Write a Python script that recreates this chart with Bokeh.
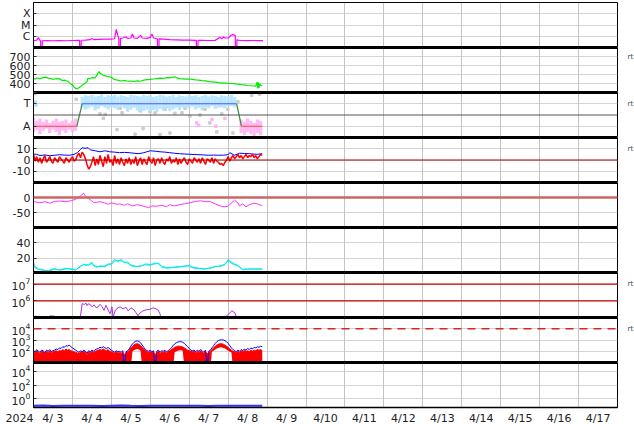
import numpy as np
import pandas as pd
from bokeh.plotting import figure
from bokeh.layouts import column
from bokeh.models import Range1d, FixedTicker, LinearAxis, Span, Grid
from bokeh.embed import file_html
from bokeh.resources import INLINE

# ---------------- data (hours after 2024-04-03 00:00 UTC) ----------------
day_labels = ["4/ 3", "4/ 4", "4/ 5", "4/ 6", "4/ 7", "4/ 8", "4/ 9", "4/10",
              "4/11", "4/12", "4/13", "4/14", "4/15", "4/16", "4/17"]
year_label = "2024"

# panel 1: X-ray flux (W/m2)
xr_h = [0, 2, 3, 4, 4.4, 4.5, 5.3, 5.4, 8, 12, 16, 20, 24, 28, 28.4, 28.5, 29.3, 29.4, 32, 35,
        36, 37, 40, 44, 48, 50, 51, 52, 52.6, 52.7, 53.5, 53.6, 55, 57, 58, 60, 61, 62, 64, 66,
        67, 70, 72, 73, 74, 76.4, 76.5, 77.3, 77.4, 80, 84, 88, 92, 96, 100, 100.4, 100.5, 101.3, 101.4, 104,
        108, 112, 115, 116, 117, 118, 120, 122, 123, 124, 124.4, 124.5, 125.3, 125.4, 126, 128, 132, 136, 140, 141.5]
xr_f = [4.0e-7, 4.5e-7, 7.5e-7, 4.2e-7, 4.0e-7, 1e-8, 1e-8, 4.0e-7, 4.2e-7, 4.0e-7,
        4.1e-7, 4.0e-7, 4.2e-7, 4.3e-7, 4.3e-7, 1e-8, 1e-8, 4.4e-7, 4.5e-7, 5.0e-7,
        6.5e-7, 5.0e-7, 5.2e-7, 5.5e-7, 5.5e-7, 6.0e-7, 4.0e-6, 1.2e-6, 6.0e-7, 1e-8,
        1e-8, 6.5e-7, 7.0e-7, 9.0e-7, 6.5e-7, 7.0e-7, 1.6e-6, 7.0e-7, 6.5e-7, 1.2e-6,
        7.0e-7, 6.5e-7, 8.0e-7, 1.6e-6, 7.0e-7, 6.0e-7, 1e-8, 1e-8, 5.8e-7, 5.5e-7,
        5.0e-7, 4.8e-7, 4.5e-7, 4.5e-7, 4.3e-7, 4.3e-7, 1e-8, 1e-8, 4.3e-7, 4.3e-7,
        4.2e-7, 4.3e-7, 8.0e-7, 6.0e-7, 9.0e-7, 7.0e-7, 7.0e-7, 1.3e-6, 1.4e-6, 1.2e-6,
        1.1e-6, 1e-8, 1e-8, 5.0e-7, 4.5e-7, 4.2e-7, 4.1e-7, 4.2e-7, 4.1e-7, 4.1e-7]

# panel 2: solar wind speed (km/s)
sw_h = [0, 1, 2, 3, 4, 5, 6, 7, 8, 9, 10, 11, 12, 13, 14, 15, 16, 17, 18, 19, 20, 21, 22, 23, 24,
        25, 26, 27, 28, 29, 30, 31, 32, 33, 33.5, 35, 36, 38, 39, 40, 40.5, 41, 42, 43, 44, 45, 46,
        47, 48, 49, 50, 51, 52, 53, 54, 56, 58, 60, 62, 64, 66, 68, 70, 72, 74, 76, 78, 80, 82, 84,
        86, 87, 88, 90, 92, 94, 96, 98, 100, 102, 104, 106, 108, 110, 112, 114, 116, 118, 120, 122,
        124, 126, 128, 130, 132, 134, 136, 137, 138, 138.3, 138.6, 139, 139.3, 140, 141]
sw_v = [455, 450, 462, 458, 452, 460, 465, 470, 468, 460, 458, 455, 445, 450, 455, 452, 455, 440,
        432, 438, 430, 428, 410, 395, 385, 360, 345, 342, 352, 365, 380, 392, 405, 420,
        458, 455, 465, 462, 490, 525, 532, 512, 505, 490, 488, 480, 478, 472, 470, 455, 445, 440,
        438, 432, 428, 435, 425, 428, 422, 430, 425, 438, 442, 445, 450, 455, 460, 456, 465, 462,
        470, 475, 465, 455, 452, 448, 450, 445, 440, 438, 432, 430, 420, 418, 415, 410, 408, 405,
        402, 400, 398, 392, 388, 385, 378, 375, 372, 370, 420, 345, 410, 350, 400, 380, 375]

# panel 3: IMF sector (T = +1, A = -1)
sec_h = [0, 26.7, 30, 125.2, 128.2, 141.2]
sec_v = [-1, -1, 1, 1, -1, -1]
tow_h = [30, 32, 34, 36, 38, 40, 42, 44, 46, 48, 50, 52, 54, 56, 58, 60, 62, 64, 66, 68, 70, 72, 74, 76,
         78, 80, 82, 84, 86, 88, 90, 92, 94, 96, 98, 100, 102, 104, 106, 108, 110, 112, 114, 116, 118,
         120, 122, 124]
tow_hi = [1.6, 1.75, 1.7, 1.8, 1.65, 1.7, 1.85, 1.6, 1.75, 1.7, 1.8, 1.65, 1.75, 1.7, 1.6, 1.8,
          1.75, 1.7, 1.65, 1.8, 1.7, 1.75, 1.6, 1.7, 1.8, 1.75, 1.65, 1.7, 1.8, 1.6, 1.75, 1.7,
          1.65, 1.8, 1.7, 1.75, 1.6, 1.7, 1.8, 1.65, 1.75, 1.7, 1.6, 1.75, 1.7, 1.65, 1.8, 1.6]
tow_lo = [0.7, 0.5, 0.6, 0.75, 0.4, 0.55, 0.8, 0.65, 0.5, 0.7, 0.6, 0.45, 0.75, 0.6, 0.3, 0.5,
          0.65, 0.4, 0.2, 0.35, 0.5, 0.3, 0.45, 0.25, 0.55, 0.4, 0.6, 0.35, 0.5, 0.65, 0.45, 0.7,
          0.55, 0.6, 0.75, 0.5, 0.65, 0.4, 0.7, 0.6, 0.8, 0.55, 0.65, 0.7, 0.6, 0.75, 0.8, 0.7]
away_h = [0, 2, 4, 6, 8, 10, 12, 14, 16, 18, 20, 22, 24, 26, 128, 130, 132, 134, 136, 138, 140]
away_hi = [-0.2, -0.5, -0.3, -0.6, -0.4, -0.7, -0.5, -0.3, -0.6, -0.5, -0.4, -0.7, -0.5, -0.3,
           -0.4, -0.6, -0.3, -0.5, -0.7, -0.4, -0.5]
away_lo = [-1.5, -1.3, -1.7, -1.4, -1.2, -1.6, -1.3, -1.5, -1.8, -1.4, -1.6, -1.3, -1.5, -1.4,
           -1.6, -1.8, -1.5, -1.7, -1.9, -1.6, -1.8]
gray_h = [1, 26.3, 41, 43, 44.2, 51.5, 53.4, 54.6, 62.6, 65.7, 67.5, 71.8, 74.9, 78, 81, 84.1,
          87.2, 91.5, 93.4, 96.4, 102.6, 105.7, 108.7, 113, 116.1, 119.8, 122.9, 126, 134.5, 139.4]
gray_v = [1.9, 1.4, 0.1, -0.3, 0.05, -1.3, 0.6, 0.2, -1.7, 0.4, -1.2, 0.3, 0.2, -1.75, 0.5, -1.6,
          0.15, 0.2, 0.6, -0.1, 0.0, 0.5, -0.7, -1.5, 0.1, 0.5, -1.6, 1.2, 1.75, 1.85]
pinkx_h = [100.6, 101.8, 110, 112.4, 118]
pinkx_v = [-0.7, -0.9, -0.4, -1.0, -0.3]
bluex_h = [1, 1.5]
bluex_v = [1.15, 0.9]

# panel 4: IMF Bt and Bz (nT), hourly Bz
bt_h = [0, 2, 4, 7, 10, 13, 16, 19, 22, 25, 27, 28.7, 30, 31.8, 33.7, 35, 38, 41, 44, 47,
        50, 53, 56, 59, 62, 65, 68, 72, 75, 78, 81, 84, 87, 90, 93, 96, 99, 102, 105, 108,
        111, 114, 117, 120, 121, 124, 127, 130, 133, 136, 138, 141]
bt_v = [5.3, 5, 4, 4.5, 3.8, 4.2, 4.7, 4.4, 4.2, 5, 6.5, 9, 10.9, 10.4, 10.9, 9, 8.2, 7.3, 8.2, 7.3,
        7, 6.5, 6.8, 6.5, 6, 5.6, 6.5, 8.2, 7.8, 7.3, 7, 6.5, 6, 5.6, 5.3, 5.1, 4.9, 4.7, 4.5, 4.2,
        4.4, 4.2, 4.3, 4.7, 6.5, 4.2, 6, 5.8, 5.6, 5.2, 5.1, 5.6]
bz_v = [5, -1, 3, -2, 2, -3, 1, 4, -2, 0,
        3, -1, -3, 2, 0, -2, 3, 1, -1, -3,
        2, 0, -2, 1, 3, -1, 0, 4, 6, 2,
        7, 5, 1, -4, -8, -6, -2, 3, -5, 1,
        -4, 4, -1, -6, 3, -3, 5, -2, 0, -5,
        4, -3, 1, -4, 2, -2, -5, 1, -3, 2,
        -4, 0, -3, 3, -5, -1, 2, -4, 1, -2,
        -4, 3, -1, -3, 2, -5, 0, 1, -3, 2,
        -2, -4, 1, -1, 3, -3, 0, -2, 2, -4,
        1, -3, 0, 2, -2, -4, 1, -1, -3, 2,
        0, -2, 1, -3, 2, -1, -4, 1, 0, -2,
        2, -3, 1, -1, -2, -4, -3, -5, -2, 0,
        3, -1, 2, 4, 1, 3, 5, 2, 4, 1,
        3, 5, 2, 4, 3, 5, 2, 4, 1, 3,
        5, 4]

# panel 5: Dst (nT)
dst_h = [0, 4, 7, 10, 13, 16, 20, 23, 26, 29, 31, 32, 35, 37, 39, 41, 44, 46, 48, 52,
         53, 56, 58, 61, 64, 67, 71, 73, 76, 79, 82, 84, 87, 90, 93, 96, 100, 103, 106, 109,
         112, 115, 118, 120, 122, 124, 126, 127, 129, 131, 133, 136, 138, 141]
dst_v = [-13, -18, -14, -19, -13, -12, -14, -11, -6, 6, 14, 4, -8, -16, -16, -14, -18, -23, -18, -23,
         -21, -26, -21, -28, -24, -28, -34, -28, -29, -26, -31, -24, -28, -24, -21, -18, -13, -11, -14, -14,
         -21, -28, -31, -29, -18, -9, -18, -28, -21, -31, -24, -19, -21, -28]

# panel 6: (cyan, two traces)
cy_h = [0, 1, 3, 7, 10, 13, 16, 20, 23, 26, 29, 31, 32, 34, 36, 37, 39, 41, 44, 46, 48, 50, 52, 54,
        56, 58, 60, 63, 66, 69, 72, 75, 77, 79, 82, 85, 88, 92, 95, 96, 99, 103, 105, 109, 112,
        115, 118, 120, 122, 124, 126, 127, 129, 132, 136, 141]
cy_a = [14, 9, 6.3, 4.4, 3.7, 5.7, 5, 7, 5.7, 5, 8.9, 12.8, 10.2, 12.1, 14.7, 10.2, 8.2, 10.2, 8.9,
        11.5, 13.4, 18.6, 15.4, 18.6, 14.1, 15.4, 10.2, 8.9, 10.2, 11.5, 10.9, 14.1, 12.8, 8.9, 7,
        7.6, 8.9, 8.9, 10.9, 9.6, 7, 6.3, 5.7, 7.6, 8.9, 10.2, 11.5, 18.6, 13.4, 11.5, 10.9, 8.2,
        5, 5.7, 6.3, 5.7]
cy_b = [12, 7.5, 5.5, 4.0, 4.5, 6.8, 4.4, 6.2, 6.6, 4.6, 10.0, 11.5, 12.0, 10.8, 13.2, 11.4, 9.0,
        9.2, 10.0, 12.6, 12.0, 16.4, 17.2, 16.6, 15.2, 13.6, 11.2, 9.6, 9.4, 12.6, 12.0, 12.6, 13.8,
        9.8, 7.8, 8.4, 8.0, 9.8, 9.8, 10.6, 8.0, 6.8, 6.4, 6.8, 9.6, 9.2, 12.6, 16.2, 15.0, 12.6,
        10.0, 9.0, 5.6, 6.2, 5.8, 6.4]

# panel 7: >2 MeV electron flux (log10)
e7_h = [1, 2, 2.5, 10, 13, 13.5, 28.7, 30, 31.2, 32.4, 33, 33.7, 34.9, 36.1, 37.4, 38.6, 39.8, 41,
        42.3, 43.5, 44.7, 46, 47.2, 48.4, 49, 50.3, 51.5, 53.4, 55.2, 57, 58.3, 60.1, 62, 63.2, 64.4,
        65.7, 67.5, 69.4, 71.8, 73.7, 75.5, 76.7, 78, 78.6, 79, 84.1, 85.3, 85.5, 98.3, 99.5, 99.7,
        107.5, 111.2, 111.5, 118.6, 119.8, 122.3, 124.1, 125.3, 125.5, 133.3, 134.5]
e7_log = [5.08, 5.08, np.nan, 5.1, 5.08, np.nan, 4.9, 5.84, 5.78, 5.86, 5.72, 5.82, 5.79, 5.64, 5.76,
          5.58, 5.64, 5.79, 5.64, 5.43, 5.73, 5.46, 5.22, 5.64, 5.0, 5.4, 5.55, 5.64, 5.52, 5.61,
          5.4, 5.58, 5.46, 5.28, 5.1, 5.28, 5.4, 5.46, 5.49, 5.58, 5.52, 5.46, 5.22, 4.9, np.nan,
          5.06, 5.06, np.nan, 5.06, 5.06, np.nan, 5.06, 5.06, np.nan, 5.05, 5.16, 5.4, 5.28, 4.95,
          np.nan, 5.06, 5.06]

# panel 8: electron flux, hourly (log10)
e8_blue = [2.1, 1.95, 2.15, 2.0, 1.9, 2.1, 2.05, 1.85, 2.1, 2.0, 2.15, 1.95, 2.05,
           2.1, 2.2, 2.15, 2.3, 2.25, 2.4, 2.35, 2.5, 2.45, 2.55, 2.4, 2.3, 2.2, 2.1, 2.0,
           1.9, 2.05, 1.95, 2.1, 2.0, 1.8, 2.05, 1.95, 2.1, 2.0, 2.15, 2.2, 2.25,
           2.35, 2.3, 2.4, 2.3, 2.25, 2.35, 2.2, 2.1, 2.0, 1.9, 2.05, 1.95,
           2.0, 1.9, 2.05, 0.5, 1.95, 2.05,
           2.2, 2.45, 2.65, 2.8, 2.9, 2.92, 2.88, 2.75, 2.55, 2.35, 2.15, 2.05,
           2.0, 2.1, 1.95, 2.05, 0.5, 2.0, 2.1, 1.9, 2.05, 2.0, 2.1, 1.95, 2.05, 2.15,
           2.3, 2.5, 2.65, 2.75, 2.82, 2.85, 2.85, 2.8, 2.7, 2.55, 2.4, 2.25, 2.1,
           2.05, 2.1, 1.95, 2.1, 2.0, 2.15, 2.05, 1.9, 2.1, 0.5, 2.0,
           2.1, 2.3, 2.5, 2.7, 2.85, 2.95, 3.0, 3.02, 3.0, 2.95, 2.85, 2.7, 2.5, 2.3, 2.15, 2.05, 1.95,
           2.1, 2.0, 2.15, 2.05, 2.2, 2.1, 2.25, 2.15, 2.3, 2.2, 2.35, 2.3, 2.4, 2.35, 2.45, 2.4]
e8_red_hi = [2.0, 1.85, 2.05, 1.9, 1.8, 2.0, 1.95, 1.75, 2.0, 1.9, 2.05, 1.85, 1.95,
             2.0, 2.05, 1.95, 2.1, 2.0, 2.15, 2.05, 2.2, 2.1, 2.15, 2.05, 2.0, 1.95, 1.9, 1.85,
             1.8, 1.95, 1.85, 2.0, 1.9, 1.7, 1.95, 1.85, 2.0, 1.9, 2.0, 2.05, 2.1,
             2.15, 2.1, 2.2, 2.1, 2.05, 2.15, 2.0, 1.95, 1.9, 1.8, 1.95, 1.85,
             1.9, 1.8, 1.95, 1.7, 1.85, 1.95,
             2.1, 2.3, 2.45, 2.58, 2.65, 2.67, 2.62, 2.5, 2.35, 2.2, 2.05, 1.95,
             1.9, 2.0, 1.85, 1.95, 1.7, 1.9, 2.0, 1.8, 1.95, 1.9, 2.0, 1.85, 1.95, 2.05,
             2.15, 2.25, 2.35, 2.4, 2.45, 2.45, 2.42, 2.38, 2.3, 2.2, 2.1, 2.05, 2.0,
             1.95, 2.0, 1.85, 2.0, 1.9, 2.05, 1.95, 1.8, 2.0, 1.75, 1.9,
             2.0, 2.15, 2.3, 2.45, 2.55, 2.62, 2.67, 2.67, 2.63, 2.55, 2.45, 2.35, 2.2, 2.1, 2.0, 1.95, 1.85,
             2.0, 1.9, 2.05, 1.95, 2.1, 2.0, 2.05, 1.95, 2.1, 2.0, 2.1, 2.05, 2.15, 2.1, 2.15, 2.05]
e8_red_lo = ([0.5] * 61 + [2.0, 2.1, 2.15, 2.2, 2.15, 2.05] + [0.5] * 20
             + [1.9, 2.0, 2.05, 2.1, 2.1, 2.05] + [0.5] * 17
             + [1.95, 2.05, 2.15, 2.25, 2.3, 2.35, 2.35, 2.3, 2.25, 2.15, 2.05, 1.95, 1.9]
             + [0.5] * 19)

# panel 9: proton flux (log10)
p9_h = [0, 6, 12, 18, 24, 30, 36, 42, 48, 54, 60, 66, 72, 78, 84, 90, 96, 102, 108, 114, 120, 126,
        132, 138, 141]
p9_log = [-1.0, -0.97, -1.02, -0.99, -1.01, -0.98, -1.0, -1.03, -0.99, -0.97, -1.0, -1.02, -0.98,
          -1.0, -1.01, -0.99, -0.98, -1.0, -1.02, -0.99, -1.0, -0.98, -1.01, -1.0, -0.99]

# ---------------- helpers ----------------
T0 = pd.Timestamp("2024-04-03")
T1 = pd.Timestamp("2024-04-18")


def ms(ts):
    return ts.value / 1e6


def T(h):
    return (T0 + pd.to_timedelta(np.asarray(h, dtype=float), unit="h")).to_numpy()


def L(a, b):
    n = min(len(a), len(b))
    return list(a)[:n], list(b)[:n]


FONT = "DejaVu Sans"
NBSP = "\u00a0"
xr = Range1d(ms(T0), ms(T1))
day_ticks = [ms(T0 + pd.Timedelta(days=i)) for i in range(16)]
noon_ticks = [ms(T0 + pd.Timedelta(days=i, hours=12)) for i in range(15)]
year_tick = ms(T0 + pd.Timedelta(minutes=1))
HOUR_MS = 3600 * 1000.0


def panel(y0, y1, log, ticks, labels=None, first=False, last=False, rt=None):
    p = figure(frame_width=584, frame_height=45, x_range=xr, y_range=Range1d(y0, y1),
               y_axis_type="log" if log else "linear", x_axis_type=None,
               toolbar_location=None, output_backend="svg",
               min_border=0, min_border_left=33, min_border_right=17,
               min_border_top=2 if first else 0, min_border_bottom=17 if last else 0,
               outline_line_color="black", outline_line_width=1,
               background_fill_color="white", border_fill_color="white")
    tk = FixedTicker(ticks=list(ticks))
    ax = p.yaxis[0]
    ax.ticker = tk
    if labels:
        ax.major_label_overrides = dict(zip(ticks, labels))
    ax.major_label_text_font = FONT
    ax.major_label_text_font_size = "11px"
    ax.major_label_text_color = "#222222"
    ax.major_label_standoff = 3
    ax.major_tick_in = 3
    ax.major_tick_out = 0
    ax.minor_tick_line_color = None
    ax.axis_line_color = "black"
    ax.major_tick_line_color = "#333333"
    p.ygrid[0].ticker = tk
    p.ygrid[0].grid_line_color = "#d4d4d4"
    p.add_layout(Grid(dimension=0, ticker=FixedTicker(ticks=day_ticks), grid_line_color="#c4c4c4"))
    if last:
        xt = [year_tick] + noon_ticks
        xl = [year_label + NBSP * 8] + day_labels
        xa = LinearAxis(ticker=FixedTicker(ticks=xt),
                        major_label_overrides=dict(zip(xt, xl)),
                        major_tick_in=0, major_tick_out=0, minor_tick_line_color=None,
                        major_label_text_font=FONT, major_label_text_font_size="11px",
                        major_label_text_color="#222222", major_label_standoff=4,
                        axis_line_color="black", axis_line_width=1.5)
        p.add_layout(xa, "below")
    if rt is not None:
        ra = LinearAxis(ticker=FixedTicker(ticks=[rt]), major_label_overrides={rt: "rt"},
                        major_label_text_font=FONT, major_label_text_font_size="7px",
                        major_label_text_color="#444444", major_label_standoff=4,
                        major_tick_line_color=None, minor_tick_line_color=None,
                        axis_line_color=None)
        p.add_layout(ra, "right")
    p._sep = (y0, y1, first, last)
    return p


def finish(p):
    y0, y1, first, last = p._sep
    p.add_layout(Span(location=y1, dimension="width", line_color="black",
                      line_width=1 if first else 3))
    if not last:
        p.add_layout(Span(location=y0, dimension="width", line_color="black", line_width=3))


figs = []

# 1 X-ray
p1 = panel(1e-7, 1e-3, True, [1e-6, 1e-5, 1e-4], ["C", "M", "X"], first=True)
x, y = L(xr_h, xr_f)
p1.line(T(x), y, color="#ff00ff", line_width=1.2)
figs.append(p1)

# 2 solar wind speed
p2 = panel(300, 800, False, [400, 500, 600, 700], rt=700)
x, y = L(sw_h, sw_v)
p2.line(T(x), y, color="#00ee00", line_width=1.2)
figs.append(p2)

# 3 sector
p3 = panel(-2, 2, False, [-1, 1], ["A", "T"], rt=1)
x, y = L(gray_h, gray_v)
p3.scatter(T(x), y, marker="square", size=2.5, color="#cccccc")
p3.vbar(x=T(tow_h), bottom=tow_lo, top=tow_hi, width=2 * HOUR_MS, color="#b0e2ff",
        line_color=None, alpha=0.9)
p3.vbar(x=T(away_h), bottom=away_lo, top=away_hi, width=2 * HOUR_MS, color="#ffb3f2",
        line_color=None, alpha=0.9)
x, y = L(pinkx_h, pinkx_v)
p3.scatter(T(x), y, marker="square", size=2.5, color="#ffb3f2")
x, y = L(bluex_h, bluex_v)
p3.scatter(T(x), y, marker="square", size=2.5, color="#b0e2ff")
p3.add_layout(Span(location=0, dimension="width", line_color="#555555", line_width=1))
sec_t = T(sec_h)
p3.segment(x0=sec_t[:-1], y0=sec_v[:-1], x1=sec_t[1:], y1=sec_v[1:],
           color=["#ff4444", "#448844", "#5555ff", "#448844", "#ff4444"], line_width=1.2)
figs.append(p3)

# 4 IMF
p4 = panel(-20, 20, False, [-10, 0, 10], ["-10", "0", "10"], rt=10)
p4.add_layout(Span(location=0, dimension="width", line_color="#aa0000", line_width=1.2))
x, y = L(bt_h, bt_v)
p4.line(T(x), y, color="#0000ff", line_width=1)
p4.line(T(range(len(bz_v))), bz_v, color="#ff0000", line_width=1.5)
figs.append(p4)

# 5 Dst
p5 = panel(-100, 50, False, [-50, 0], ["-50", "0"])
p5.add_layout(Span(location=0, dimension="width", line_color="#cc6666", line_width=2.5))
x, y = L(dst_h, dst_v)
p5.line(T(x), y, color="#ff33ff", line_width=1)
figs.append(p5)

# 6 cyan
p6 = panel(1.5, 60, False, [20, 40])
x, y = L(cy_h, cy_a)
p6.line(T(x), y, color="#00e8e8", line_width=1)
x, y = L(cy_h, cy_b)
p6.line(T(x), y, color="#00e8e8", line_width=1)
figs.append(p6)

# 7 electrons >2MeV
p7 = panel(1e5, 10 ** 7.7, True, [1e6, 1e7], rt=1e7)
p7.add_layout(Span(location=1e7, dimension="width", line_color="#cc0000", line_width=1.2))
p7.add_layout(Span(location=1e6, dimension="width", line_color="#cc0000", line_width=1.2))
x, y = L(e7_h, e7_log)
p7.line(T(x), 10 ** np.asarray(y), color="#aa33dd", line_width=1)
figs.append(p7)

# 8 electrons
p8 = panel(1e1, 1e5, True, [1e2, 1e3, 1e4], rt=1e4)
p8.add_layout(Span(location=1e4, dimension="width", line_color="#dd2222", line_width=1.5,
                   line_dash="8 6"))
n8 = min(len(e8_red_hi), len(e8_red_lo))
h8 = list(range(n8))
p8.varea(x=T(h8), y1=10 ** np.asarray(e8_red_lo[:n8]), y2=10 ** np.asarray(e8_red_hi[:n8]),
         color="#ff0000")
p8.line(T(range(len(e8_blue))), 10 ** np.asarray(e8_blue), color="#0000ff", line_width=1)
p8.line(T(h8), 10 ** np.asarray(e8_red_hi[:n8]), color="#ff0000", line_width=1)
figs.append(p8)

# 9 protons
p9 = panel(10 ** -1.25, 10 ** 5.25, True, [1, 1e2, 1e4], last=True)
x, y = L(p9_h, p9_log)
p9.line(T(x), 10 ** np.asarray(y), color="#3333ff", line_width=2)
figs.append(p9)

for f in figs:
    finish(f)

layout = column(*figs, spacing=0)
open("out.html", "w").write(file_html(layout, INLINE))
